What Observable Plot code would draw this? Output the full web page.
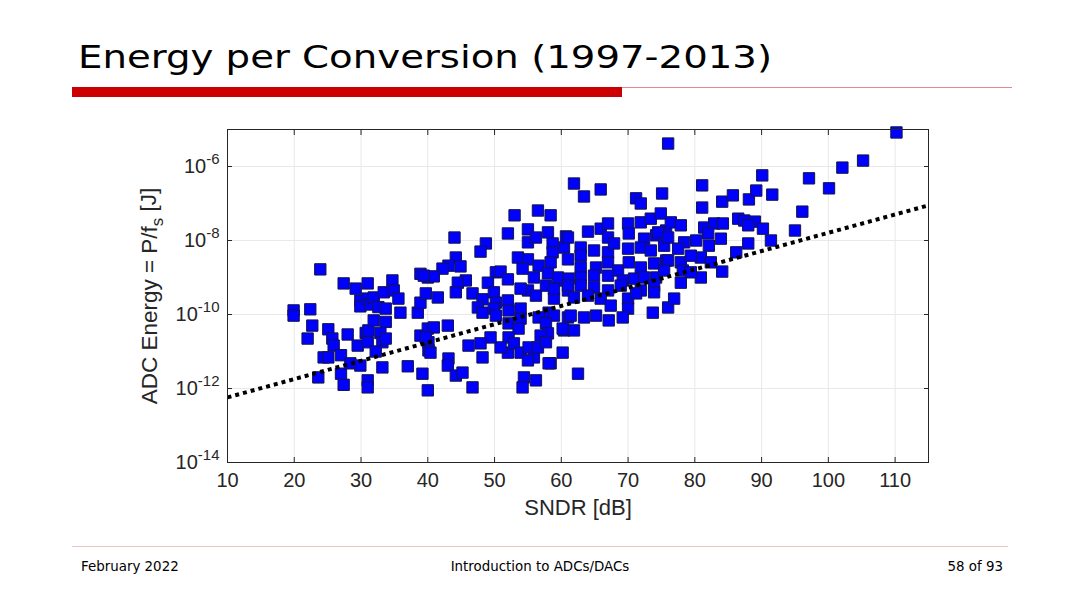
<!DOCTYPE html>
<html><head><meta charset="utf-8">
<script src="https://cdn.jsdelivr.net/npm/d3@7"></script>
<script src="https://cdn.jsdelivr.net/npm/@observablehq/plot@0.6"></script>
<style>
body{margin:0;background:#fff;}
#page{position:relative;width:1080px;height:607px;overflow:hidden;background:#fff;}
#title{position:absolute;left:78px;top:41px;font-family:"DejaVu Sans",sans-serif;font-size:32px;color:#000;white-space:nowrap;line-height:1;transform-origin:0 0;}
#bar{position:absolute;left:72px;top:87px;width:550px;height:10px;background:#cc0000;}
#thin{position:absolute;left:622px;top:87px;width:390px;height:1px;background:#e58a8a;}
#foot{position:absolute;left:72px;top:546px;width:936px;height:1px;background:#f2c2c2;}
.ft{position:absolute;top:560px;font-family:"DejaVu Sans",sans-serif;font-size:13.4px;line-height:1;color:#000;white-space:nowrap;}
#chart{position:absolute;left:0;top:110px;}
</style>
</head><body>
<div id="page">
  <div id="title">Energy per Conversion (1997-2013)</div>
  <div id="bar"></div><div id="thin"></div>
  <div id="chart"></div>
  <div id="foot"></div>
  <div class="ft" style="left:81px">February 2022</div>
  <div class="ft" style="left:540px;transform:translateX(-50%)">Introduction to ADCs/DACs</div>
  <div class="ft" style="right:77px">58 of 93</div>
</div>
<script>
// SNDR [dB] of each published ADC
const sndr = [
19.9,19.9,23.9,22.4,22.7,22.0,25.1,25.7,25.9,24.4,25.1,23.6,27.0,27.4,27.0,28.0,27.4,29.2,29.5,28.4,29.9,29.9,29.9,31.0,31.0,31.4,30.7,31.1,31.0,31.0,31.0,31.9,31.9,32.6,33.4,33.7,33.7,32.9,33.2,33.7,32.2,33.2,34.7,34.9,35.6,35.9,37.0,38.5,38.9,38.9,40.0,39.7,38.9,39.2,40.0,40.0,40.1,40.1,
53.0,56.5,58.4,52.0,44.0,48.7,47.9,55.0,55.0,56.2,58.0,58.7,58.7,60.7,60.4,61.0,53.5,55.0,54.2,56.6,58.4,44.2,44.9,43.1,42.2,40.9,39.4,50.2,50.9,49.0,52.0,45.7,44.5,44.2,41.5,46.7,48.2,49.9,50.2,47.5,48.2,49.9,50.2,52.0,52.1,53.9,55.0,53.9,56.2,55.9,57.7,58.9,59.9,61.0,58.1,58.9,56.6,53.9,52.1,53.6,57.7,58.0,60.4,61.0,52.1,52.0,52.9,53.9,55.1,55.9,55.0,56.9,56.5,50.9,49.4,47.9,46.1,48.2,43.1,43.0,44.2,45.2,46.7,54.4,54.2,56.2,58.4,60.2,60.2,40.4,40.9,43.0,39.7,
61.9,63.4,65.9,71.2,71.9,75.1,61.0,64.0,65.9,67.0,67.0,70.0,71.9,73.4,74.9,70.1,72.4,74.2,75.7,62.9,62.9,64.9,67.0,67.9,70.0,71.9,73.4,75.4,62.9,65.2,67.0,68.5,70.1,71.9,73.9,75.7,58.0,59.5,61.1,62.9,64.9,67.0,69.2,70.9,72.4,74.2,58.9,61.0,62.9,64.9,67.0,68.9,71.9,73.9,61.9,64.0,65.9,70.0,71.2,73.9,67.4,70.0,73.7,76.0,61.4,63.4,65.2,67.1,69.2,61.9,57.7,58.1,62.5,
90.1,81.1,84.1,85.7,88.1,89.2,91.6,81.1,76.4,77.9,81.4,82.9,84.2,86.5,87.4,89.0,88.0,74.5,76.0,78.4,80.2,82.0,83.9,88.0,82.1,86.2,77.5,80.9,76.0,77.9,82.4,79.4,84.1,80.9,78.2,79.4,77.9,75.4,76.9,
110.2,105.2,102.1,97.1,100.1,96.1,95.0,76.0,90.2,91.4
];
// log10 of energy per conversion P/fs [J]
const logEnergy = [
-9.89,-10.03,-8.78,-9.86,-10.3,-10.65,-10.4,-10.65,-10.84,-11.16,-11.16,-11.7,-11.1,-11.9,-11.6,-10.54,-9.16,-9.3,-10.84,-11.32,-11.38,-9.62,-9.78,-9.16,-9.57,-9.73,-10.5,-10.43,-10.75,-11.78,-11.97,-10.16,-9.54,-9.8,-9.4,-9.84,-10.2,-10.5,-10.75,-10.65,-11.0,-11.43,-9.08,-9.35,-9.57,-9.95,-11.4,-9.95,-9.68,-8.9,-9.0,-9.43,-10.57,-11.6,-12.05,-10.38,-10.75,-10.97,
-7.32,-7.19,-7.32,-7.81,-7.92,-8.08,-8.3,-7.7,-8.05,-7.92,-7.78,-8.08,-8.32,-7.89,-8.19,-8.51,-8.46,-8.51,-8.76,-8.68,-8.59,-8.46,-8.7,-8.68,-8.76,-8.97,-8.95,-8.86,-8.84,-9.14,-9.05,-9.08,-9.14,-9.4,-9.54,-9.43,-9.59,-9.4,-9.68,-9.81,-9.95,-9.84,-10.03,-9.62,-9.89,-9.84,-9.35,-9.3,-9.49,-9.0,-9.22,-9.57,-9.08,-9.35,-9.95,-10.03,-10.08,-10.11,-10.24,-10.38,-10.24,-10.51,-10.43,-10.08,-10.62,-11.03,-10.78,-11.03,-10.89,-11.16,-11.24,-10.57,-10.89,-10.89,-10.62,-10.78,-10.84,-11.16,-11.19,-11.38,-11.65,-11.57,-11.97,-11.7,-11.97,-11.78,-11.32,-11.03,-10.38,-11.03,-10.35,-10.3,-10.62,
-6.46,-6.81,-6.62,-6.86,-7.0,-6.73,-7.92,-7.76,-7.68,-7.54,-7.92,-7.54,-7.51,-7.41,-7.27,-7.81,-7.95,-7.86,-7.73,-8.19,-8.41,-8.27,-8.32,-8.08,-8.22,-8.19,-8.27,-8.14,-8.73,-8.73,-8.59,-8.81,-8.59,-8.73,-8.62,-8.54,-8.89,-9.0,-9.03,-9.0,-8.95,-8.95,-9.08,-9.03,-9.0,-9.0,-9.3,-9.22,-9.22,-9.27,-9.35,-9.22,-9.35,-9.22,-9.54,-9.49,-9.57,-9.57,-9.43,-9.4,-9.76,-9.84,-9.95,-9.81,-10.03,-10.08,-10.03,-10.16,-10.08,-10.43,-10.75,-11.32,-11.6,
-6.24,-6.51,-6.95,-6.78,-6.89,-6.65,-6.76,-7.11,-7.51,-7.59,-7.65,-7.54,-7.54,-7.41,-7.46,-7.49,-7.59,-7.78,-7.92,-8.05,-8.0,-7.81,-7.95,-8.08,-8.14,-8.32,-8.22,-8.46,-8.54,-8.59,-8.59,-8.41,-8.84,-9.0,-8.81,-8.86,-9.14,-8.81,-9.57,
-5.08,-5.84,-6.03,-6.32,-6.59,-7.22,-7.73,-5.38,-7.68,-8.0
];
// dotted reference line (end points)
const lineSndr = [10, 115];
const lineLogEnergy = [-12.24, -7.05];

const xTicks = [10,20,30,40,50,60,70,80,90,100,110];
const yTickExp = [-14,-12,-10,-8,-6];
const yTicks = yTickExp.map(e => Math.pow(10, e));

const points = sndr.map((s, i) => ({sndr: s, energy: Math.pow(10, logEnergy[i])}));
const linePts = lineSndr.map((s, i) => ({sndr: s, energy: Math.pow(10, lineLogEnergy[i])}));

const blank = () => "";
const axisColor = "#262626";
const chart = Plot.plot({
  width: 1080, height: 420,
  marginLeft: 227, marginRight: 152, marginTop: 19, marginBottom: 68,
  style: {fontFamily: "'Liberation Sans', Arial, sans-serif", fontSize: "20px", color: axisColor, background: "transparent", overflow: "visible"},
  x: {domain: [10, 115]},
  y: {type: "log", domain: [1e-14, 1e-5]},
  marks: [
    Plot.gridX(xTicks, {stroke: "#e8e8e8", strokeOpacity: 1}),
    Plot.gridY(yTicks, {stroke: "#e8e8e8", strokeOpacity: 1}),
    Plot.axisX(xTicks, {anchor: "bottom", tickSize: 0, tickPadding: 10, fontSize: 20, label: "SNDR [dB]", labelAnchor: "center", labelArrow: "none", labelOffset: 52, fill: axisColor}),
    Plot.axisX(xTicks, {anchor: "bottom", tickSize: 5, dy: -5, tickFormat: blank, label: null, stroke: axisColor}),
    Plot.axisX(xTicks, {anchor: "top", tickSize: 5, dy: 5, tickFormat: blank, label: null, stroke: axisColor}),
    Plot.axisY(yTicks, {anchor: "left", tickSize: 0, tickPadding: 8, fontSize: 20, tickFormat: d => "10^" + Math.round(Math.log10(d)), label: "ADC Energy = P/fs [J]", labelAnchor: "center", labelArrow: "none", labelOffset: 86, fill: axisColor}),
    Plot.axisY(yTicks, {anchor: "left", tickSize: 5, dx: 5, tickFormat: blank, label: null, stroke: axisColor}),
    Plot.axisY(yTicks, {anchor: "right", tickSize: 5, dx: -5, tickFormat: blank, label: null, stroke: axisColor}),
    Plot.dot(points, {x: "sndr", y: "energy", symbol: "square", r: 6.4, fill: "#0000ff", stroke: "#14144a", strokeWidth: 1}),
    Plot.line(linePts, {x: "sndr", y: "energy", stroke: "#000", strokeWidth: 4, strokeDasharray: "4,4", strokeLinecap: "butt"}),
    Plot.frame({stroke: axisColor})
  ]
});
document.getElementById("chart").appendChild(chart);

// superscript exponents on y tick labels
chart.querySelectorAll('[aria-label="y-axis tick label"] text').forEach(t => {
  const m = /^10\^(-?\d+)$/.exec(t.textContent.trim());
  if (m) t.innerHTML = '10<tspan dy="-0.6em" font-size="0.75em">' + m[1] + '</tspan>';
});
// axis labels: larger font, subscript s on the y label
chart.querySelectorAll('[aria-label="y-axis label"] text').forEach(t => {
  t.setAttribute("font-size", "22.5");
  t.innerHTML = 'ADC Energy = P/f<tspan dy="0.35em" font-size="0.75em">s</tspan><tspan dy="-0.35em"> [J]</tspan>';
});
chart.querySelectorAll('[aria-label="x-axis label"] text').forEach(t => t.setAttribute("font-size", "22"));
chart.querySelectorAll('[aria-label="y-axis label"], [aria-label="x-axis label"]').forEach(g => g.setAttribute("font-size", "22"));

// title box width as in the slide
const title = document.getElementById("title");
title.style.transform = "scaleX(" + (694 / title.getBoundingClientRect().width) + ")";
</script>
</body></html>
